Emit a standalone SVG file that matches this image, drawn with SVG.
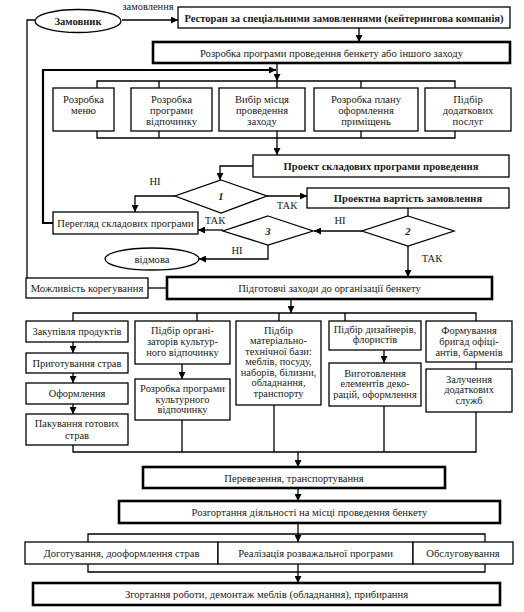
<svg xmlns="http://www.w3.org/2000/svg" width="524" height="612" viewBox="0 0 524 612" font-family="'Liberation Serif', 'Times New Roman', Times, 'DejaVu Serif', serif">
<style>
.thin{fill:#fff;stroke:#000;stroke-width:1.3}
.thick{fill:#fff;stroke:#000;stroke-width:2.6}
text{font-family:'Liberation Serif','Times New Roman',Times,'DejaVu Serif',serif}
.t{font-size:10.6px;text-anchor:middle;fill:#1a1a1a}
.s{font-size:10.4px}
.b{font-weight:bold}
.i{font-style:italic;font-weight:bold}
.c path{stroke:#000;stroke-width:1.3;fill:none}
.c .w{stroke-width:2.2}
</style>
<defs>
<marker id="a" viewBox="0 0 10 10" refX="10" refY="5" markerWidth="7" markerHeight="7" markerUnits="userSpaceOnUse" orient="auto">
<path d="M0,0 L10,5 L0,10 z" fill="#000"/>
</marker>
</defs>
<rect width="524" height="612" fill="#fff"/>

<g class="c">
<path d="M122,20 H178" marker-end="url(#a)"/>
<path d="M35,20 H27 V278"/>
<path d="M359,28 V42" marker-end="url(#a)"/>
<path class="w" d="M53,223 H43 V70 H276" marker-end="url(#a)"/>
<path d="M277,63 V81" marker-end="url(#a)"/>
<path d="M97,88 V81 H455 V88 M159,81 V88 M277,81 V88 M361,81 V88"/>
<path d="M97,131 V138 H455 V131 M159,131 V138 M277,131 V138 M361,131 V138"/>
<path d="M277,138 V155" marker-end="url(#a)"/>
<path d="M253,166 H220 V180" marker-end="url(#a)"/>
<path d="M175,196 H135 V212" marker-end="url(#a)"/>
<path d="M267,196 H307" marker-end="url(#a)"/>
<path d="M408,208 V216"/>
<path d="M362,231 H314" marker-end="url(#a)"/>
<path d="M223,230 H198" marker-end="url(#a)"/>
<path d="M268,245 V259 H199" marker-end="url(#a)"/>
<path d="M408,246 V277" marker-end="url(#a)"/>
<path d="M148,288 H167"/>
<path d="M291,300 V313" marker-end="url(#a)"/>
<path d="M73,321 V313 H476 V321 M197,313 V321 M279,313 V321 M345,313 V321"/>
<path d="M73,342 V353" marker-end="url(#a)"/>
<path d="M73,373 V383" marker-end="url(#a)"/>
<path d="M73,404 V414" marker-end="url(#a)"/>
<path d="M182,364 V379" marker-end="url(#a)"/>
<path d="M384,350 V363" marker-end="url(#a)"/>
<path d="M476,362 V369"/>
<path d="M73,445 V452 H476 V412 M182,420 V452 M274,405 V452 M384,406 V452"/>
<path d="M298,452 V467" marker-end="url(#a)"/>
<path d="M298,488 V501" marker-end="url(#a)"/>
<path d="M298,523 V542" marker-end="url(#a)"/>
<path d="M88,542 V534 H485 V542"/>
<path d="M88,564 V572 H485 V564"/>
<path d="M298,564 V583" marker-end="url(#a)"/>
</g>

<g id="zamovnyk"><ellipse class="thin" cx="78" cy="21" rx="43" ry="11.5"/><text class="t b" x="78" y="25">Замовник</text></g>
<text class="t s" x="148" y="10">замовлення</text>
<g id="restoran"><rect class="thin" x="178" y="7" width="332" height="21"/><text class="t b" x="344" y="21.5">Ресторан за спеціальними замовленнями (кейтерингова компанія)</text></g>
<g id="prohrama"><rect class="thick" x="153" y="42" width="357" height="21"/><text class="t" x="331.5" y="56.5">Розробка програми проведення бенкету або іншого заходу</text></g>

<g id="menu"><rect class="thin" x="53" y="88" width="61" height="43"/><text class="t" x="83.5" y="103">Розробка</text><text class="t" x="83.5" y="114">меню</text></g>
<g id="vidpochynok"><rect class="thin" x="131" y="88" width="81" height="43"/><text class="t" x="171.5" y="103">Розробка</text><text class="t" x="171.5" y="114">програми</text><text class="t" x="171.5" y="125">відпочинку</text></g>
<g id="misce"><rect class="thin" x="219" y="88" width="86" height="43"/><text class="t" x="262" y="103">Вибір місця</text><text class="t" x="262" y="114">проведення</text><text class="t" x="262" y="125">заходу</text></g>
<g id="plan"><rect class="thin" x="314" y="88" width="104" height="43"/><text class="t" x="366" y="103">Розробка плану</text><text class="t" x="366" y="114">оформлення</text><text class="t" x="366" y="125">приміщень</text></g>
<g id="posluhy"><rect class="thin" x="425" y="88" width="86" height="43"/><text class="t" x="468" y="103">Підбір</text><text class="t" x="468" y="114">додаткових</text><text class="t" x="468" y="125">послуг</text></g>

<g id="proekt"><rect class="thin" x="253" y="155" width="256" height="22"/><text class="t b" x="381" y="170">Проект складових програми проведення</text></g>
<g id="d1"><polygon class="thin" points="221,180 267,196 221,213 175,196"/><text class="t i" x="221" y="200">1</text></g>
<g id="vartist"><rect class="thin" x="307" y="188" width="202" height="20"/><text class="t b" x="408" y="202">Проектна вартість замовлення</text></g>
<g id="perehliad"><rect class="thin" x="53" y="212" width="145" height="22"/><text class="t" x="125.5" y="227">Перегляд складових програми</text></g>
<g id="d2"><polygon class="thin" points="408,216 454,231 408,246 362,231"/><text class="t i" x="408" y="235">2</text></g>
<g id="d3"><polygon class="thin" points="268,216 313,231 268,245 223,231"/><text class="t i" x="268" y="235">3</text></g>
<g id="vidmova"><ellipse class="thin" cx="152" cy="259" rx="47" ry="11"/><text class="t" x="152" y="262.5">відмова</text></g>
<text class="t" x="155" y="185">НІ</text>
<text class="t" x="287" y="209">ТАК</text>
<text class="t" x="340" y="224">НІ</text>
<text class="t" x="215" y="224">ТАК</text>
<text class="t" x="237" y="254">НІ</text>
<text class="t" x="432" y="262">ТАК</text>

<g id="korehuvannia"><rect class="thin" x="26" y="278" width="122" height="20"/><text class="t" x="87" y="291.5">Можливість корегування</text></g>
<g id="pidhotovchi"><rect class="thick" x="167" y="277" width="325" height="22"/><text class="t" x="329.5" y="292">Підготовчі заходи до організації бенкету</text></g>

<g id="zakupivlia"><rect class="thin" x="26" y="321" width="102" height="21"/><text class="t s" x="77" y="335">Закупівля продуктів</text></g>
<g id="pryhotuvannia"><rect class="thin" x="26" y="353" width="102" height="20"/><text class="t s" x="77" y="366.5">Приготування страв</text></g>
<g id="oformlennia"><rect class="thin" x="26" y="383" width="102" height="21"/><text class="t s" x="77" y="397">Оформлення</text></g>
<g id="pakuvannia"><rect class="thin" x="26" y="414" width="102" height="31"/><text class="t s" x="77" y="427">Пакування готових</text><text class="t s" x="77" y="438.5">страв</text></g>

<g id="orhanizatory"><rect class="thin" x="135" y="321" width="95" height="43"/><text class="t s" x="182.5" y="333.5">Підбір органі-</text><text class="t s" x="182.5" y="344.5">заторів культур-</text><text class="t s" x="182.5" y="355.5">ного відпочинку</text></g>
<g id="kulturna"><rect class="thin" x="135" y="379" width="95" height="41"/><text class="t s" x="182.5" y="392">Розробка програми</text><text class="t s" x="182.5" y="402.5">культурного</text><text class="t s" x="182.5" y="413">відпочинку</text></g>

<g id="baza"><rect class="thin" x="236" y="321" width="85" height="84"/>
<text class="t s" x="278.5" y="333.5">Підбір</text><text class="t s" x="278.5" y="344">матеріально-</text><text class="t s" x="278.5" y="354.5">технічної бази:</text><text class="t s" x="278.5" y="365">меблів, посуду,</text><text class="t s" x="278.5" y="375.5">наборів, білизни,</text><text class="t s" x="278.5" y="386">обладнання,</text><text class="t s" x="278.5" y="396.5">транспорту</text></g>

<g id="dyzainery"><rect class="thin" x="329" y="321" width="92" height="29"/><text class="t s" x="375" y="332.5">Підбір дизайнерів,</text><text class="t s" x="375" y="343">флористів</text></g>
<g id="dekoracii"><rect class="thin" x="329" y="363" width="92" height="43"/><text class="t s" x="375" y="376.5">Виготовлення</text><text class="t s" x="375" y="387">елементів деко-</text><text class="t s" x="375" y="397.5">рацій, оформлення</text></g>

<g id="bryhady"><rect class="thin" x="426" y="321" width="86" height="41"/><text class="t s" x="469" y="333.5">Формування</text><text class="t s" x="469" y="344.5">бригад офіці-</text><text class="t s" x="469" y="355.5">антів, барменів</text></g>
<g id="sluzhby"><rect class="thin" x="426" y="369" width="86" height="43"/><text class="t s" x="469" y="382.5">Залучення</text><text class="t s" x="469" y="393">додаткових</text><text class="t s" x="469" y="403.5">служб</text></g>

<g id="perevezennia"><rect class="thick" x="143" y="467" width="302" height="21"/><text class="t" x="294" y="481.5">Перевезення, транспортування</text></g>
<g id="rozghortannia"><rect class="thick" x="119" y="501" width="381" height="22"/><text class="t" x="309.5" y="516">Розгортання діяльності на місці проведення бенкету</text></g>

<g id="dohotuvannia"><rect class="thin" x="25" y="542" width="193" height="22"/><text class="t" x="121.5" y="557">Доготування, дооформлення страв</text></g>
<g id="realizatsiia"><rect class="thin" x="218" y="542" width="195" height="22"/><text class="t" x="315.5" y="557">Реалізація розважальної програми</text></g>
<g id="obsluhovuvannia"><rect class="thin" x="413" y="542" width="100" height="22"/><text class="t" x="463" y="557">Обслуговування</text></g>

<g id="zghortannia"><rect class="thick" x="33" y="583" width="467" height="22"/><text class="t" x="266.5" y="598">Згортання роботи, демонтаж меблів (обладнання), прибирання</text></g>
</svg>
